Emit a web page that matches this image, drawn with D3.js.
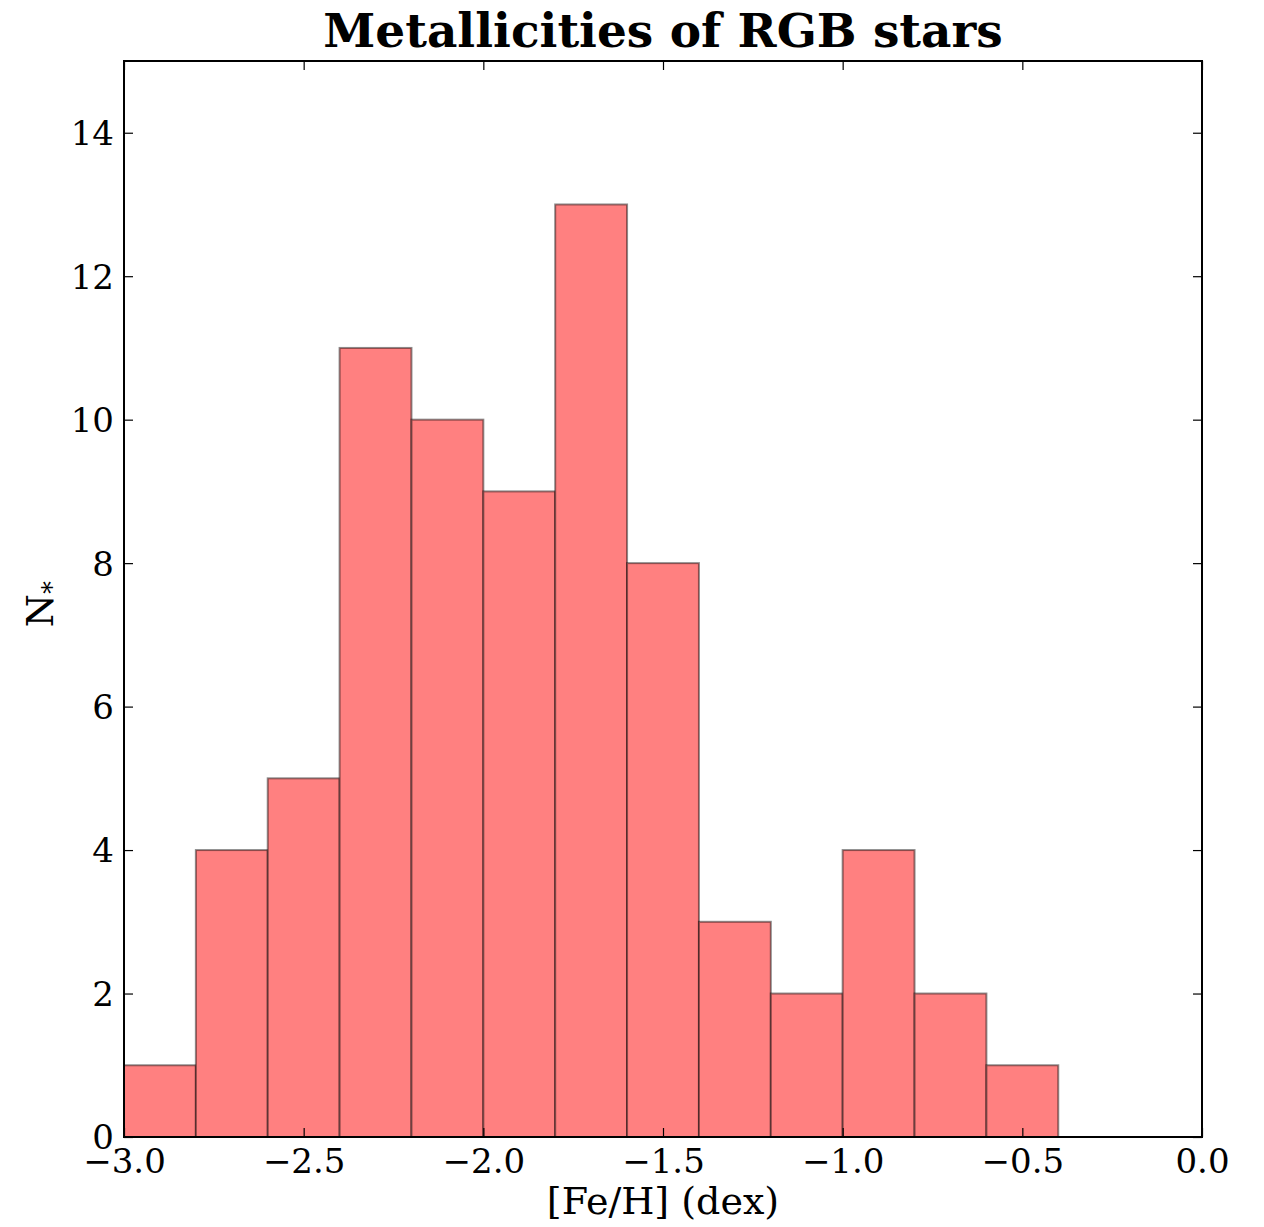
<!DOCTYPE html>
<html>
<head>
<meta charset="utf-8">
<script src="https://cdn.jsdelivr.net/npm/d3@7"></script>
<style>
  body { margin: 0; background: #fff; }
  text { font-family: "DejaVu Serif", serif; fill: #000; }
</style>
</head>
<body>
<div id="chart"></div>
<script>
// histogram bins (left edges, dex) and counts
const binEdges = [-3.0, -2.8, -2.6, -2.4, -2.2, -2.0, -1.8, -1.6, -1.4, -1.2, -1.0, -0.8, -0.6, -0.4];
const counts = [1, 4, 5, 11, 10, 9, 13, 8, 3, 2, 4, 2, 1];
const xTicks = [-3.0, -2.5, -2.0, -1.5, -1.0, -0.5, 0.0];
const yTicks = [0, 2, 4, 6, 8, 10, 12, 14];

const w = 1264, h = 1227;
const m = { left: 124, right: 62, top: 61, bottom: 90 };
const iw = w - m.left - m.right, ih = h - m.top - m.bottom;

const bins = counts.map((c, i) => ({ x0: binEdges[i], x1: binEdges[i + 1], n: c }));

const svg = d3.select("#chart").append("svg")
  .attr("width", w).attr("height", h);

const x = d3.scaleLinear().domain([-3, 0]).range([0, iw]);
const y = d3.scaleLinear().domain([0, 15]).range([ih, 0]);

const g = svg.append("g").attr("transform", `translate(${m.left},${m.top})`);

g.selectAll(".bar")
  .data(bins)
  .enter().append("rect")
  .attr("class", "bar")
  .attr("x", d => x(d.x0))
  .attr("y", d => y(d.n))
  .attr("width", d => x(d.x1) - x(d.x0))
  .attr("height", d => y(0) - y(d.n))
  .attr("fill", "#ff8080")
  .attr("stroke", "rgba(0,0,0,0.45)")
  .attr("stroke-width", 2);

const fmt = v => (v === 0 ? "0.0" : d3.format(".1f")(v).replace("-", "\u2212"));
const tl = 9;

// bottom / top ticks
const xAxisB = g.append("g").attr("transform", `translate(0,${ih})`)
  .call(d3.axisBottom(x).tickValues(xTicks).tickSizeInner(-tl).tickSizeOuter(0).tickPadding(10).tickFormat(fmt));
const xAxisT = g.append("g")
  .call(d3.axisTop(x).tickValues(xTicks).tickSizeInner(-tl).tickSizeOuter(0).tickFormat(""));
const yAxisL = g.append("g")
  .call(d3.axisLeft(y).tickValues(yTicks).tickSizeInner(-tl).tickSizeOuter(0).tickPadding(10).tickFormat(d3.format("d")));
const yAxisR = g.append("g").attr("transform", `translate(${iw},0)`)
  .call(d3.axisRight(y).tickValues(yTicks).tickSizeInner(-tl).tickSizeOuter(0).tickFormat(""));

[xAxisB, xAxisT, yAxisL, yAxisR].forEach(a => {
  a.select(".domain").remove();
  a.selectAll(".tick line").attr("stroke", "#000").attr("stroke-width", 1.2);
  a.selectAll("text").style("font-size", "34px").attr("fill", "#000");
});
xAxisB.selectAll("text").attr("dy", "0.75em");
yAxisL.selectAll("text").attr("dy", "0.35em");

// frame
g.append("rect")
  .attr("width", iw).attr("height", ih)
  .attr("fill", "none").attr("stroke", "#000").attr("stroke-width", 2);

// title
svg.append("text")
  .attr("x", m.left + iw / 2).attr("y", 47)
  .attr("text-anchor", "middle")
  .style("font-size", "47px").style("font-weight", "bold")
  .text("Metallicities of RGB stars");

// x label
svg.append("text")
  .attr("x", m.left + iw / 2).attr("y", 1214)
  .attr("text-anchor", "middle")
  .style("font-size", "38px")
  .text("[Fe/H] (dex)");

// y label
const yl = svg.append("text")
  .attr("transform", `translate(53,${m.top + ih / 2 + 5}) rotate(-90)`)
  .attr("text-anchor", "middle")
  .style("font-size", "38px");
yl.append("tspan").text("N");
yl.append("tspan").attr("baseline-shift", "-30%").style("font-size", "26px").text("*");
</script>
</body>
</html>
